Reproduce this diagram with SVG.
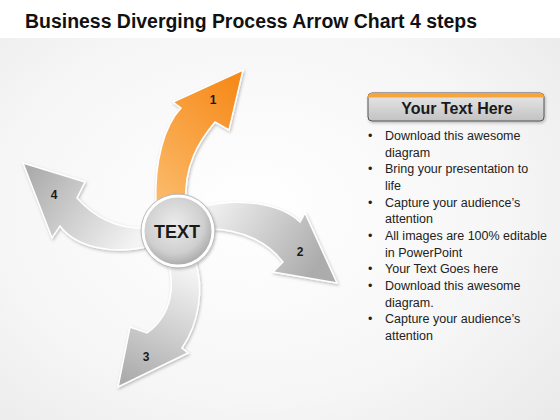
<svg xmlns="http://www.w3.org/2000/svg" width="560" height="420" viewBox="0 0 560 420">
<defs>
<radialGradient id="bg" cx="0.45" cy="0.5" r="0.75">
<stop offset="0" stop-color="#ffffff"/>
<stop offset="0.6" stop-color="#f6f6f6"/>
<stop offset="1" stop-color="#e9e9e9"/>
</radialGradient>
<linearGradient id="gR" x1="0" y1="0" x2="1" y2="0.4">
<stop offset="0" stop-color="#f4f4f4"/>
<stop offset="1" stop-color="#acacac"/>
</linearGradient>
<linearGradient id="gD" x1="0.6" y1="0" x2="0.3" y2="1">
<stop offset="0" stop-color="#f4f4f4"/>
<stop offset="1" stop-color="#acacac"/>
</linearGradient>
<linearGradient id="gL" x1="1" y1="0.7" x2="0" y2="0.2">
<stop offset="0" stop-color="#f4f4f4"/>
<stop offset="1" stop-color="#acacac"/>
</linearGradient>
<linearGradient id="gO" x1="0.2" y1="1" x2="0.8" y2="0">
<stop offset="0" stop-color="#fbb866"/>
<stop offset="1" stop-color="#f68a1a"/>
</linearGradient>
<radialGradient id="gC" cx="0.45" cy="0.4" r="0.6">
<stop offset="0" stop-color="#ececec"/>
<stop offset="0.7" stop-color="#cfcfcf"/>
<stop offset="1" stop-color="#a9a9a9"/>
</radialGradient>
<linearGradient id="gH" x1="0" y1="0" x2="0" y2="1">
<stop offset="0" stop-color="#e9e9e9"/>
<stop offset="1" stop-color="#c2c2c2"/>
</linearGradient>
<filter id="sh" x="-20%" y="-20%" width="140%" height="140%">
<feDropShadow dx="1" dy="1.5" stdDeviation="1.5" flood-color="#000" flood-opacity="0.25"/>
</filter>
</defs>
<style>
.arrow{stroke:#ffffff;stroke-width:1.5;stroke-linejoin:miter;filter:url(#sh)}
.num{font-family:"Liberation Sans",Arial,sans-serif;font-weight:bold;font-size:12px;fill:#1a1a1a;text-anchor:middle}
.bl{font-family:"Liberation Sans",Arial,sans-serif;font-size:12.5px;fill:#222}
</style>
<rect width="560" height="420" fill="url(#bg)"/>
<rect width="560" height="38" fill="#ffffff"/>
<text x="25" y="28" font-family="'Liberation Sans',Arial,sans-serif" font-weight="bold" font-size="20" fill="#111" textLength="452" lengthAdjust="spacingAndGlyphs">Business Diverging Process Arrow Chart 4 steps</text>

<g id="connectors">
<g id="arrow1">
<path class="arrow" fill="url(#gO)" d="M156,205 C154,160 165,125 181,108 L173,102 L243,70 L229,130 L215,122 C200,140 183,165 186,205 Z"/>
<text class="num" x="213" y="104">1</text>
</g>
<g id="arrow2">
<path class="arrow" fill="url(#gR)" d="M205,206 C240,198 280,203 300,222 L305,213 L337,283 L273,272 L283,262 C270,245 245,228 205,229 Z"/>
<text class="num" x="300" y="256">2</text>
</g>
<g id="arrow3">
<path class="arrow" fill="url(#gD)" d="M167,260 C176,285 172,315 147,333 L130,327 L118,387 L188,353 L182,348 C198,325 205,290 195,260 Z"/>
<text class="num" x="146" y="361">3</text>
</g>
<g id="arrow4">
<path class="arrow" fill="url(#gL)" d="M150,246 C110,256 75,246 60,226 L52,238 L23,163 L85,182 L77,198 C95,218 120,230 150,228 Z"/>
<text class="num" x="54" y="199">4</text>
</g>
</g>

<g id="center">
<circle cx="178" cy="231" r="37" fill="#d0d0d0" filter="url(#sh)"/>
<circle cx="178" cy="231" r="35" fill="url(#gC)" stroke="#ffffff" stroke-width="3"/>
<circle cx="178" cy="231" r="37" fill="none" stroke="#b8b8b8" stroke-width="0.8"/>
<text x="177" y="237.5" font-family="'Liberation Sans',Arial,sans-serif" font-weight="bold" font-size="18" fill="#1a1a1a" text-anchor="middle">TEXT</text>
</g>

<g id="header">
<rect x="368" y="93" width="176" height="28" rx="4" fill="url(#gH)" stroke="#555" stroke-width="1" filter="url(#sh)"/>
<path d="M372,93 H540 A4,4 0 0 1 544,97 V97.5 H368 V97 A4,4 0 0 1 372,93 Z" fill="#f7a43c"/>
<text x="457" y="114" font-family="'Liberation Sans',Arial,sans-serif" font-weight="bold" font-size="16" fill="#1a1a1a" text-anchor="middle">Your Text Here</text>
</g>

<g id="bullets">
<text class="bl" x="368" y="140">•</text><text class="bl" x="385" y="140">Download this awesome</text>
<text class="bl" x="385" y="156.7">diagram</text>
<text class="bl" x="368" y="173.3">•</text><text class="bl" x="385" y="173.3">Bring your presentation to</text>
<text class="bl" x="385" y="190">life</text>
<text class="bl" x="368" y="206.7">•</text><text class="bl" x="385" y="206.7">Capture your audience’s</text>
<text class="bl" x="385" y="223.3">attention</text>
<text class="bl" x="368" y="240">•</text><text class="bl" x="385" y="240">All images are 100% editable</text>
<text class="bl" x="385" y="256.7">in PowerPoint</text>
<text class="bl" x="368" y="273.3">•</text><text class="bl" x="385" y="273.3">Your Text Goes here</text>
<text class="bl" x="368" y="290">•</text><text class="bl" x="385" y="290">Download this awesome</text>
<text class="bl" x="385" y="306.7">diagram.</text>
<text class="bl" x="368" y="323.3">•</text><text class="bl" x="385" y="323.3">Capture your audience’s</text>
<text class="bl" x="385" y="340">attention</text>
</g>
</svg>
